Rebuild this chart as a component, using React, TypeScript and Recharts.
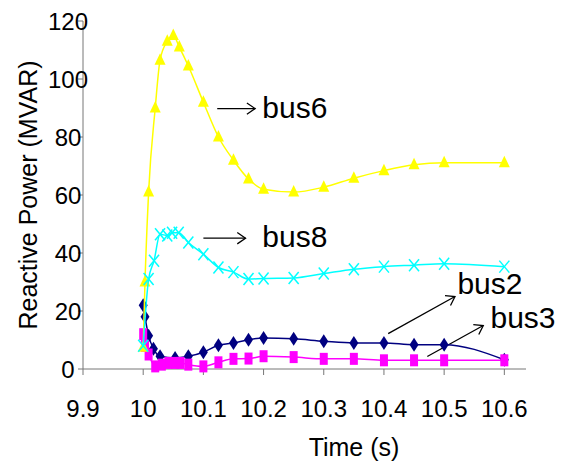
import React from 'react';
import {
  ScatterChart,
  Scatter,
  XAxis,
  YAxis,
  ReferenceLine,
  ReferenceDot,
} from 'recharts';

// time stamps (s) and reactive power (MVAR) per bus
const bus6Time = [10.0, 10.003, 10.009, 10.02, 10.028, 10.04, 10.05, 10.06, 10.075, 10.1, 10.125, 10.15, 10.175, 10.2, 10.25, 10.3, 10.35, 10.4, 10.45, 10.5, 10.6];
const bus6Q = [7.5, 30, 61, 90, 106.5, 113, 115, 111, 104.5, 92, 80, 72, 65.5, 62, 61, 62.7, 65.8, 68.4, 70.4, 71.1, 71.1];

const bus8Time = [10.0, 10.009, 10.018, 10.028, 10.04, 10.048, 10.059, 10.075, 10.1, 10.125, 10.15, 10.175, 10.2, 10.25, 10.3, 10.35, 10.4, 10.45, 10.5, 10.6];
const bus8Q = [8, 31, 37.3, 46.5, 46, 47, 47, 43.6, 39.6, 35, 33.4, 31, 31.2, 31.4, 32.9, 34.4, 35.3, 35.8, 36.3, 35.3];

const bus2Time = [10.0, 10.003, 10.009, 10.017, 10.028, 10.053, 10.075, 10.1, 10.125, 10.15, 10.175, 10.2, 10.25, 10.3, 10.35, 10.4, 10.45, 10.5, 10.6];
const bus2Q = [22, 18, 11.5, 7, 4.4, 3.8, 4.4, 5.8, 8.2, 9, 10.1, 10.7, 10.4, 9.6, 9, 9, 8.4, 8.4, 3.2];

const bus3Time = [10.0, 10.003, 10.009, 10.02, 10.031, 10.042, 10.053, 10.062, 10.075, 10.1, 10.125, 10.15, 10.175, 10.2, 10.25, 10.3, 10.35, 10.4, 10.45, 10.5, 10.6];
const bus3Q = [12, 8, 5, 0.9, 1.5, 2.1, 2.1, 2.1, 1.5, 0.9, 2.3, 3.5, 3.6, 4.4, 4.1, 3.5, 3.5, 3, 3, 3, 3];

const xTicks = [9.9, 10, 10.1, 10.2, 10.3, 10.4, 10.5, 10.6];
const yTicks = [0, 20, 40, 60, 80, 100, 120];

// callouts: arrow from -> to, then the label anchor (data coords)
const callouts = [
  { name: 'bus6', from: [10.123, 89.8], to: [10.186, 89.8], text: [10.198, 86.6] },
  { name: 'bus8', from: [10.1, 45.1], to: [10.17, 45.1], text: [10.198, 42.0] },
  { name: 'bus2', from: [10.407, 12.2], to: [10.518, 25.0], text: [10.522, 25.7] },
  { name: 'bus3', from: [10.472, 4.3], to: [10.565, 15.0], text: [10.577, 14.0] },
];

const toRows = (t: number[], q: number[]) => t.map((x, i) => ({ t: x, q: q[i] }));

const FONT = '"Liberation Sans", Arial, sans-serif';
const PLOT_BOTTOM = 369;

const Triangle = (p: any) => (
  <polygon points={`${p.cx},${p.cy - 7} ${p.cx - 5.5},${p.cy + 4.5} ${p.cx + 5.5},${p.cy + 4.5}`} fill="#FFFF00" />
);
const Diamond = (p: any) => (
  <polygon points={`${p.cx},${p.cy - 7} ${p.cx + 4.5},${p.cy} ${p.cx},${p.cy + 7} ${p.cx - 4.5},${p.cy}`} fill="#000080" />
);
const Square = (p: any) => <rect x={p.cx - 4} y={p.cy - 6} width={8} height={12} fill="#FF00FF" />;
const Cross = (p: any) => (
  <g stroke="#00FFFF" strokeWidth={1.5}>
    <line x1={p.cx - 5} y1={p.cy - 6} x2={p.cx + 5} y2={p.cy + 6} />
    <line x1={p.cx - 5} y1={p.cy + 6} x2={p.cx + 5} y2={p.cy - 6} />
  </g>
);

const Arrow = (p: any) => {
  const { x1, y1, x2, y2 } = p;
  const a = Math.atan2(y2 - y1, x2 - x1);
  const len = 10;
  const spread = 0.6;
  const h1x = x2 - len * Math.cos(a - spread);
  const h1y = y2 - len * Math.sin(a - spread);
  const h2x = x2 - len * Math.cos(a + spread);
  const h2y = y2 - len * Math.sin(a + spread);
  return (
    <g stroke="#000" strokeWidth={1.3} fill="none">
      <line x1={x1} y1={y1} x2={x2} y2={y2} />
      <polyline points={`${h1x},${h1y} ${x2},${y2} ${h2x},${h2y}`} />
    </g>
  );
};

const YTick = (p: any) => (
  <text x={68} y={p.y} dy="0.355em" textAnchor="middle" fontSize={24} fontFamily={FONT} fill="#000">
    {p.payload.value}
  </text>
);

const XTick = (p: any) => (
  <text x={p.x} y={PLOT_BOTTOM + 48} textAnchor="middle" fontSize={24} fontFamily={FONT} fill="#000">
    {p.payload.value}
  </text>
);

export default function App() {
  return (
    <div style={{ position: 'fixed', left: 0, top: 0, width: 565, height: 461, background: '#fff', fontFamily: FONT }}>
      <ScatterChart width={565} height={461} margin={{ top: 21, right: 39, left: 0, bottom: 0 }}>
        <XAxis
          type="number"
          dataKey="t"
          domain={[9.9, 10.636]}
          ticks={xTicks}
          allowDataOverflow
          height={92}
          stroke="#777"
          tickSize={6}
          tick={<XTick />}
          label={{
            content: () => (
              <text x={354} y={456} textAnchor="middle" fontSize={25} fontFamily={FONT} fill="#000">
                Time (s)
              </text>
            ),
          }}
        />
        <YAxis
          type="number"
          dataKey="q"
          domain={[0, 120]}
          ticks={yTicks}
          width={83}
          stroke="#777"
          tickSize={5}
          tick={<YTick />}
          label={{
            content: () => (
              <text x={37} y={195} transform="rotate(-90 37 195)" textAnchor="middle" fontSize={25} fontFamily={FONT} fill="#000">
                Reactive Power (MVAR)
              </text>
            ),
          }}
        />
        <Scatter
          data={toRows(bus2Time, bus2Q)}
          fill="#000080"
          line={{ stroke: '#000080', strokeWidth: 1.5 }}
          lineJointType="monotoneX"
          shape={<Diamond />}
          isAnimationActive={false}
        />
        <Scatter
          data={toRows(bus3Time, bus3Q)}
          fill="#FF00FF"
          line={{ stroke: '#FF00FF', strokeWidth: 1.5 }}
          lineJointType="monotoneX"
          shape={<Square />}
          isAnimationActive={false}
        />
        <Scatter
          data={toRows(bus6Time, bus6Q)}
          fill="#FFFF00"
          line={{ stroke: '#FFFF00', strokeWidth: 1.5 }}
          lineJointType="monotoneX"
          shape={<Triangle />}
          isAnimationActive={false}
        />
        <Scatter
          data={toRows(bus8Time, bus8Q)}
          fill="#00FFFF"
          line={{ stroke: '#00FFFF', strokeWidth: 1.5 }}
          lineJointType="monotoneX"
          shape={<Cross />}
          isAnimationActive={false}
        />
        {callouts.map((c) => (
          <ReferenceLine
            key={`arrow-${c.name}`}
            segment={[{ x: c.from[0], y: c.from[1] }, { x: c.to[0], y: c.to[1] }]}
            shape={<Arrow />}
          />
        ))}
        {callouts.map((c) => (
          <ReferenceDot
            key={`label-${c.name}`}
            x={c.text[0]}
            y={c.text[1]}
            r={0}
            shape={(p: any) => (
              <text x={p.cx} y={p.cy} fontSize={30} fontFamily={FONT} fill="#000">
                {c.name}
              </text>
            )}
          />
        ))}
      </ScatterChart>
    </div>
  );
}
